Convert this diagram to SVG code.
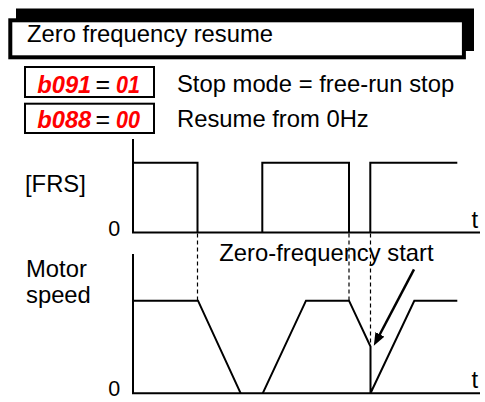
<svg xmlns="http://www.w3.org/2000/svg" width="485" height="402" viewBox="0 0 485 402">
<style>
text{font-family:"Liberation Sans",Arial,sans-serif;fill:#000}
.lbl{font-size:23.8px}
.zero{font-size:21.5px}
.seg{font-size:23.5px;font-style:italic;font-weight:bold;fill:#ff0000}
.eq{font-size:25px}
.ln{fill:none;stroke:#000;stroke-width:2}
.dash{fill:none;stroke:#000;stroke-width:1.2;stroke-dasharray:4 3}
.box{fill:#fff;stroke:#000;stroke-width:2}
</style>
<defs>
<marker id="ah" viewBox="0 0 13 10" refX="7" refY="5" markerWidth="13" markerHeight="10" orient="auto" markerUnits="userSpaceOnUse">
<path d="M0,0 L13,5 L0,10 z" fill="#000"/>
</marker>
</defs>
<rect width="485" height="402" fill="#fff"/>

<g id="title">
<rect x="16" y="8.5" width="458" height="42.5" fill="#000"/>
<rect x="10.3" y="20.3" width="453.6" height="37" fill="#fff" stroke="#000" stroke-width="4"/>
<text class="lbl" x="27" y="41.7">Zero frequency resume</text>
</g>

<g id="param1">
<rect class="box" x="25" y="67" width="129" height="30"/>
<text class="seg" x="37.3" y="93.3" textLength="54" lengthAdjust="spacingAndGlyphs">b091</text>
<text class="eq" x="95.5" y="93.3">=</text>
<text class="seg" x="116" y="93.3" textLength="24" lengthAdjust="spacingAndGlyphs">01</text>
<text class="lbl" x="177" y="92">Stop mode = free-run stop</text>
</g>

<g id="param2">
<rect class="box" x="25" y="103.7" width="129" height="29.3"/>
<text class="seg" x="37.3" y="128.3" textLength="54" lengthAdjust="spacingAndGlyphs">b088</text>
<text class="eq" x="95.5" y="128.3">=</text>
<text class="seg" x="116" y="128.3" textLength="24" lengthAdjust="spacingAndGlyphs">00</text>
<text class="lbl" x="177" y="127.3">Resume from 0Hz</text>
</g>

<g id="frs-chart">
<text class="lbl" x="25" y="191.7">[FRS]</text>
<text class="zero" x="108.3" y="236.4">0</text>
<text class="lbl" x="471.5" y="228">t</text>
<path class="ln" d="M133,139 V232.5 H480"/>
<path class="ln" d="M133,162.7 H197.5 V232.5 M262.3,232.5 V162.7 H349 V232.5 M370.3,232.5 V162.7 H457.3"/>
</g>

<g id="speed-chart">
<text class="lbl" x="26" y="276.7">Motor</text>
<text class="lbl" x="26" y="302.8">speed</text>
<text class="zero" x="108.3" y="395.7">0</text>
<text class="lbl" x="471.5" y="388.3">t</text>
<path class="ln" d="M133,254 V393.3 H480"/>
<path class="ln" d="M133,300.7 H198 L240.7,393.3 M262.7,393.3 L306,300.7 H349 L370.5,346.5 V393.3 L414.3,300.7 H457.3"/>
</g>

<g id="connectors">
<path class="dash" d="M197.5,233.5 V300 M349,233.5 V300 M370.5,233.5 V345"/>
<path d="M414,269.3 L376.6,340.5" fill="none" stroke="#000" stroke-width="2.5" marker-end="url(#ah)"/>
</g>

<g id="annotation">
<text class="lbl" x="219.3" y="261">Zero-frequency start</text>
</g>
</svg>
